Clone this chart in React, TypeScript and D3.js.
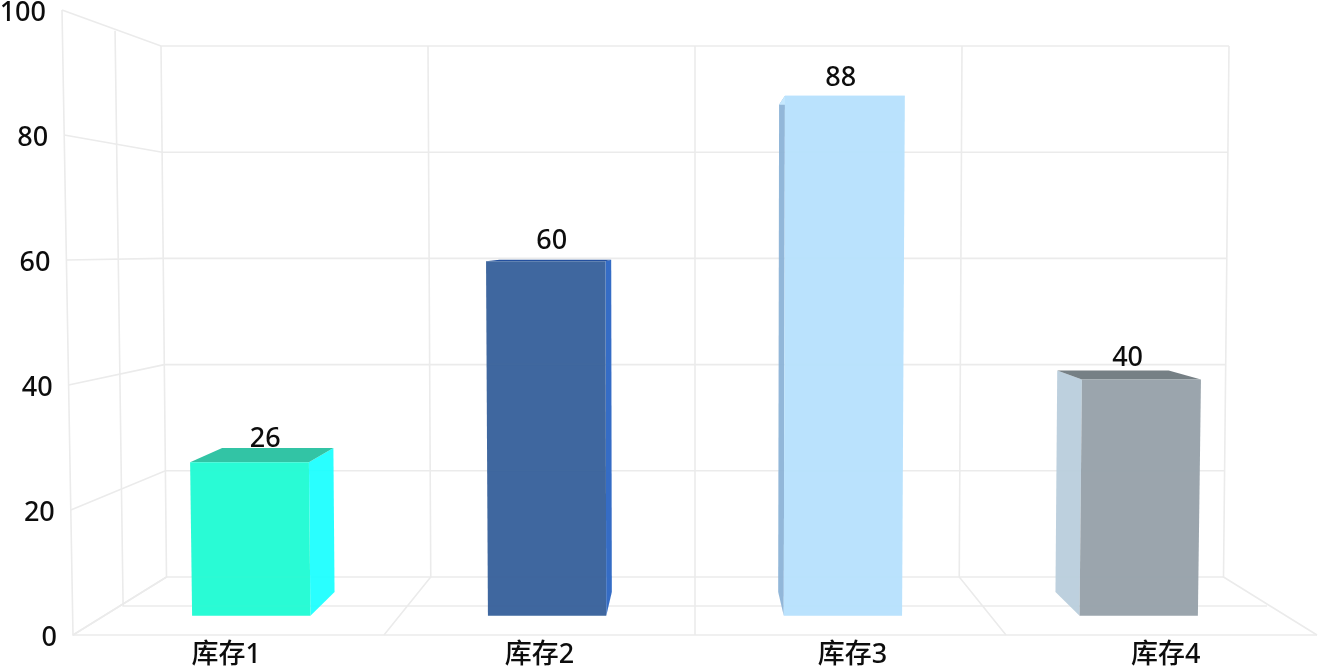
import React from 'react';
import * as d3 from 'd3';

const categories = ['库存1', '库存2', '库存3', '库存4'];
const stock = [26, 60, 88, 40];
const yTicks = [0, 20, 40, 60, 80, 100];

const frontColors = ['#25fbd4', '#3a639c', '#b8e2fd', '#98a3ab'];
const sideColors = ['#22ffff', '#2f69c4', '#8fb5d8', '#bbcfdd'];
const topColors = ['#2cc3a3', '#1b4a9b', '#c4e8fe', '#727c82'];

const WIDTH = 1318;
const HEIGHT = 666;
const FONT = '"Noto Sans", "Noto Sans CJK SC", sans-serif';
const GRID = '#ebebeb';

// depth goes 0 (front edge) to 1 (back wall)
const BAR_FRONT = 0.33;
const BAR_BACK = 0.74;
const MID_DEPTH = 0.5;

const floorY = d3.scaleLinear().domain([0, 1]).range([635, 577]);
const ceilY = d3.scalePow().exponent(0.8).domain([0, 1]).range([10, 46]);
const floorHalf = d3.scalePow().exponent(0.9).domain([0, 1]).range([622, 528.5]);
const ceilHalf = d3.scalePow().exponent(0.9).domain([0, 1]).range([633, 534]);
const yShare = d3.scaleLinear().domain([0, 100]).range([0, 1]);
const xBand = d3.scaleBand<string>().domain(categories).range([-1.007, 1.007]).paddingInner(0.6).paddingOuter(0.3);
const CENTER_X = 695;

// u: -1..1 across the floor, v: axis value, t: depth
const project = (u: number, v: number, t: number): [number, number] => {
  const k = yShare(v);
  const half = floorHalf(t) + (ceilHalf(t) - floorHalf(t)) * k;
  const y = floorY(t) + (ceilY(t) - floorY(t)) * k;
  return [CENTER_X + u * half, y];
};

const line = d3.line<[number, number]>();
const face = (pts: [number, number][]) => line(pts) + 'Z';
const bandMid = (c: string) => (xBand(c) as number) + xBand.bandwidth() / 2;

const wallLines = () => {
  const out: string[] = [];
  const columns = d3.range(0, 5).map((i) => -1 + i / 2);
  yTicks.forEach((v) => {
    out.push(line([project(-1, v, 0), project(-1, v, 1), project(1, v, 1)]) as string);
  });
  columns.forEach((u) => {
    out.push(line([project(u, 0, 0), project(u, 0, 1), project(u, 100, 1)]) as string);
  });
  out.push(line([project(-1, 100, 0), project(-1, 0, 0), project(1, 0, 0)]) as string);
  out.push(line([project(-1, 100, MID_DEPTH), project(-1, 0, MID_DEPTH), project(1, 0, MID_DEPTH)]) as string);
  return out;
};

const Bar = ({ i }: { i: number }) => {
  const v = stock[i];
  const left = xBand(categories[i]) as number;
  const right = left + xBand.bandwidth();
  const sideU = (left + right) / 2 < 0 ? right : left;
  return (
    <g opacity={0.97}>
      <path
        d={face([project(sideU, 0, BAR_FRONT), project(sideU, 0, BAR_BACK), project(sideU, v, BAR_BACK), project(sideU, v, BAR_FRONT)])}
        fill={sideColors[i]}
      />
      <path
        d={face([project(left, v, BAR_FRONT), project(left, v, BAR_BACK), project(right, v, BAR_BACK), project(right, v, BAR_FRONT)])}
        fill={topColors[i]}
      />
      <path
        d={face([project(left, 0, BAR_FRONT), project(right, 0, BAR_FRONT), project(right, v, BAR_FRONT), project(left, v, BAR_FRONT)])}
        fill={frontColors[i]}
      />
    </g>
  );
};

export default function App() {
  return (
    <svg
      width={WIDTH}
      height={HEIGHT}
      style={{ position: 'fixed', left: 0, top: 0, display: 'block', background: '#fff' }}
    >
      <defs>
        <filter id="soft" x="-2%" y="-2%" width="104%" height="104%">
          <feGaussianBlur stdDeviation="0.7" />
        </filter>
      </defs>
      <g filter="url(#soft)" fontFamily={FONT} fontSize={27} fontWeight={500} fill="#111">
        {wallLines().map((d, i) => (
          <path key={i} d={d} fill="none" stroke={GRID} strokeWidth={1.6} />
        ))}
        {stock.map((_, i) => (
          <Bar key={i} i={i} />
        ))}
        {yTicks.map((v) => {
          const [x, y] = project(-1, v, 0);
          return (
            <text key={v} x={x - 16} y={y + 11} textAnchor="end">
              {v}
            </text>
          );
        })}
        {categories.map((c) => {
          const [x] = project(bandMid(c), 0, 0);
          return (
            <text key={c} x={x + 1} y={663} textAnchor="middle">
              {c}
            </text>
          );
        })}
        {stock.map((v, i) => {
          const [x] = project(bandMid(categories[i]), v, 0.54);
          const [, y] = project(bandMid(categories[i]), v, 0.42);
          return (
            <text key={i} x={x + 1} y={y - 12} textAnchor="middle">
              {v}
            </text>
          );
        })}
      </g>
    </svg>
  );
}
